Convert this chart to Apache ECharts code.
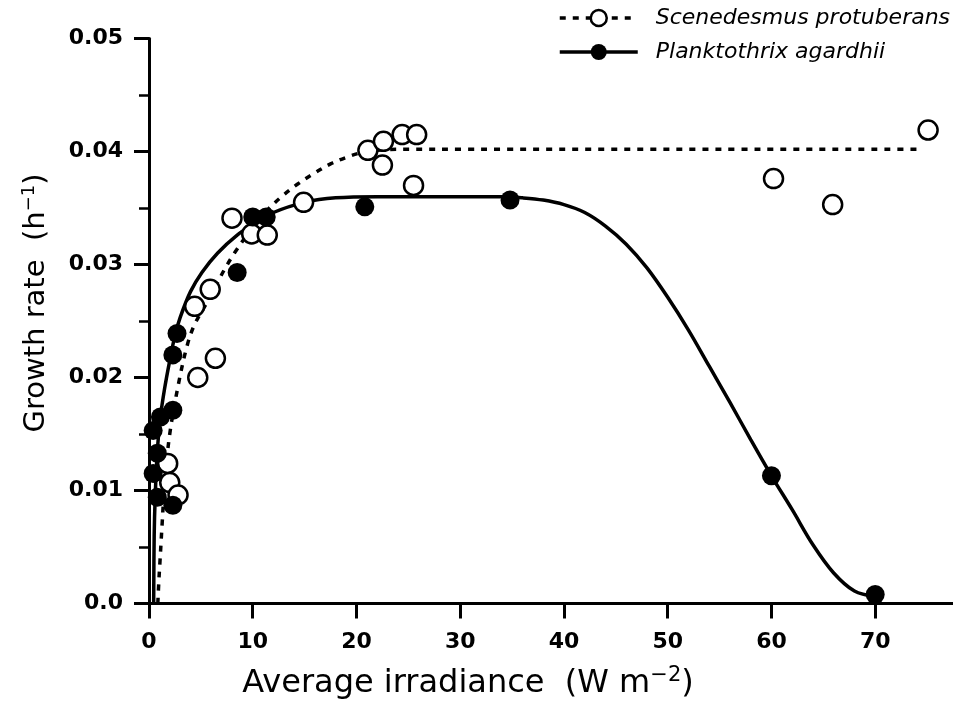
<!DOCTYPE html>
<html><head><meta charset="utf-8">
<script src="https://cdn.jsdelivr.net/npm/echarts@6/dist/echarts.min.js"></script>
<style>html,body{margin:0;padding:0;background:#fff}#c{width:953px;height:710px}</style>
</head><body><div id="c"></div>
<script>
const xTicks = [0, 10, 20, 30, 40, 50, 60, 70];
const yTicks = [0, 0.01, 0.02, 0.03, 0.04, 0.05];
const yTickLabels = ['0.0', '0.01', '0.02', '0.03', '0.04', '0.05'];

// Scenedesmus protuberans (open circles)
const sceneX = [1.8, 2.0, 2.8, 4.7, 6.4, 4.4, 5.9, 8.0, 9.9, 11.4, 14.9, 21.1, 22.6, 24.4, 25.8, 22.5, 25.5, 60.2, 65.9, 75.1];
const sceneY = [0.0124, 0.0107, 0.0096, 0.0200, 0.0217, 0.0263, 0.0278, 0.0341, 0.0327, 0.0326, 0.0355, 0.0401, 0.0409, 0.0415, 0.0415, 0.0388, 0.0370, 0.0376, 0.0353, 0.0419];

// Planktothrix agardhii (filled circles)
const plankX = [0.4, 0.8, 0.4, 0.8, 1.1, 2.3, 2.3, 2.3, 2.7, 8.5, 10.0, 11.3, 20.8, 34.8, 60.0, 70.0];
const plankY = [0.0115, 0.0094, 0.0153, 0.0133, 0.0165, 0.0171, 0.0087, 0.0220, 0.0239, 0.0293, 0.0342, 0.0342, 0.0351, 0.0357, 0.0113, 0.0008];

// fitted curves
const sceneCurveX = [0.85, 0.95, 1.05, 1.15, 1.25, 1.5, 2.0, 2.9, 3.7, 4.4, 5.5, 6.6, 7.3, 8.3, 10.0, 11.5, 12.9, 14.3, 15.8, 17.5, 19.1, 20.5, 22.0, 24.0, 74.5];
const sceneCurveY = [0, 0.002, 0.0036, 0.0052, 0.0068, 0.0105, 0.015, 0.0197, 0.0229, 0.0247, 0.0265, 0.0284, 0.0296, 0.0311, 0.0333, 0.0349, 0.0361, 0.0371, 0.0380, 0.0389, 0.0395, 0.0399, 0.0401, 0.0402, 0.0402];
const plankCurveX = [0.45, 0.5, 0.6, 0.8, 1.1, 1.5, 2.0, 2.5, 3.0, 4.0, 5.1, 6.6, 8.5, 10, 12, 15, 18, 22, 28, 34, 36, 38, 40, 42, 44, 46, 48, 50, 52, 54, 56, 58, 60, 62, 64, 66, 68, 70];
const plankCurveY = [0, 0.006, 0.0095, 0.0135, 0.0165, 0.019, 0.0215, 0.0237, 0.0253, 0.0276, 0.0293, 0.031, 0.0326, 0.0335, 0.0346, 0.0355, 0.0359, 0.036, 0.036, 0.036, 0.0359, 0.0357, 0.0353, 0.0346, 0.0334, 0.0318, 0.0297, 0.0271, 0.0242, 0.0210, 0.0178, 0.0145, 0.0113, 0.0083, 0.0052, 0.0027, 0.0011, 0.0006];

const sceneName = 'Scenedesmus protuberans';
const plankName = 'Planktothrix agardhii';

const zip = (a, b) => a.map((v, i) => [v, b[i]]);
const FONT = 'DejaVu Sans';

const chart = echarts.init(document.getElementById('c'), null, {renderer: 'canvas'});
chart.setOption({
  backgroundColor: '#fff',
  animation: false,
  grid: {left: 149, top: 38.5, width: 804, height: 565, containLabel: false},
  legend: {
    orient: 'vertical', left: 553, top: 2,
    itemWidth: 78, itemHeight: 20, itemGap: 12,
    selectedMode: false,
    textStyle: {fontFamily: FONT, fontStyle: 'italic', fontSize: 22, color: '#000', padding: [0, 0, 0, 13]},
    data: [
      {name: sceneName, itemStyle: {color: '#fff', borderColor: '#000', borderWidth: 2.5}, lineStyle: {color: '#000', width: 3.5, type: [6, 7]}},
      {name: plankName, itemStyle: {color: '#000', borderColor: '#000', borderWidth: 0}, lineStyle: {color: '#000', width: 3.5, type: 'solid'}}
    ]
  },
  xAxis: {
    type: 'value', min: 0, max: 77.5, interval: 10,
    splitLine: {show: false},
    axisLine: {onZero: false, lineStyle: {color: '#000', width: 3}},
    axisTick: {length: 15, lineStyle: {color: '#000', width: 3}, customValues: xTicks},
    axisLabel: {customValues: xTicks, color: '#000', fontFamily: FONT, fontWeight: 'bold', fontSize: 22, margin: 28},
    name: '{t|Average irradiance  (W m}{s|−2}{t|)}',
    nameLocation: 'middle', nameGap: 62,
    nameTextStyle: {
      padding: [0, 166, 0, 0],
      rich: {
        t: {fontFamily: FONT, fontSize: 32, color: '#000'},
        s: {fontFamily: FONT, fontSize: 21, color: '#000', padding: [0, 0, 16, 0]}
      }
    }
  },
  yAxis: {
    type: 'value', min: 0, max: 0.05, interval: 0.01,
    splitLine: {show: false},
    axisLine: {onZero: false, lineStyle: {color: '#000', width: 3}},
    axisTick: {length: 15, lineStyle: {color: '#000', width: 3}},
    minorTick: {show: true, splitNumber: 2, length: 10, lineStyle: {color: '#000', width: 2.5}},
    axisLabel: {
      color: '#000', fontFamily: FONT, fontWeight: 'bold', fontSize: 22, margin: 26,
      formatter: v => { const i = yTicks.findIndex(t => Math.abs(t - v) < 1e-9); return i >= 0 ? yTickLabels[i] : ''; }
    },
    name: '{t|Growth rate  (h}{s|−1}{t|)}',
    nameLocation: 'middle', nameGap: 97,
    nameTextStyle: {
      padding: [0, 0, 0, 36],
      rich: {
        t: {fontFamily: FONT, fontSize: 29, color: '#000'},
        s: {fontFamily: FONT, fontSize: 18, color: '#000', padding: [0, 0, 14, 0]}
      }
    }
  },
  series: [
    {name: sceneName, type: 'line', data: zip(sceneCurveX, sceneCurveY), smooth: 0.35,
     symbol: 'circle', showSymbol: false, lineStyle: {color: '#000', width: 3.5, type: [6, 7]}, itemStyle: {color: '#fff', borderColor: '#000'}, z: 2, silent: true},
    {name: plankName, type: 'line', data: zip(plankCurveX, plankCurveY), smooth: 0.35,
     symbol: 'circle', showSymbol: false, lineStyle: {color: '#000', width: 3.5}, itemStyle: {color: '#000'}, z: 2, silent: true},
    {name: sceneName + ' data', type: 'scatter', data: zip(sceneX, sceneY), symbol: 'circle', symbolSize: 19,
     itemStyle: {color: '#fff', borderColor: '#000', borderWidth: 2.5, opacity: 1}, z: 3},
    {name: plankName + ' data', type: 'scatter', data: zip(plankX, plankY), symbol: 'circle', symbolSize: 19,
     itemStyle: {color: '#000', borderColor: '#000', borderWidth: 0, opacity: 1}, z: 4}
  ]
});
</script>
</body></html>
